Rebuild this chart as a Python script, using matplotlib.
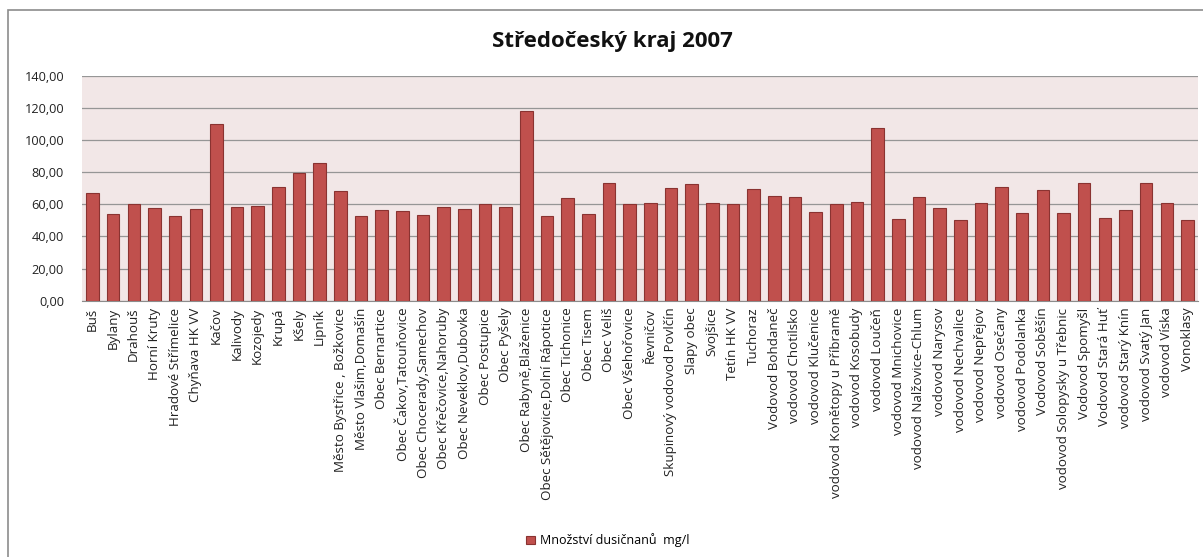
import matplotlib
matplotlib.use("Agg")
import matplotlib.pyplot as plt
from matplotlib.patches import Rectangle
from matplotlib.ticker import FuncFormatter

plt.rcParams['font.family'] = ['Open Sans', 'DejaVu Sans']

# Středočeský kraj 2007 - dusičnany ve vodovodech
obce = [
    "Buš", "Bylany", "Drahouš", "Horní Kruty", "Hradové Střímelice",
    "Chyňava HK VV", "Kačov", "Kalivody", "Kozojedy", "Krupá", "Kšely",
    "Lipník", "Město Bystřice , Božkovice", "Město Vlašim,Domašín",
    "Obec Bernartice", "Obec Čakov,Tatouňovice", "Obec Chocerady,Samechov",
    "Obec Křečovice,Nahoruby", "Obec Neveklov,Dubovka", "Obec Postupice",
    "Obec Pyšely", "Obec Rabyně,Blaženice", "Obec Sětějovice,Dolní Rápotice",
    "Obec Tichonice", "Obec Tisem", "Obec Veliš", "Obec Všehořovice",
    "Řevničov", "Skupinový vodovod Povlčín", "Slapy obec", "Svojšice",
    "Tetín HK VV", "Tuchoraz", "Vodovod Bohdaneč", "vodovod Chotilsko",
    "vodovod Klučenice", "vodovod Konětopy u Příbramě", "vodovod Kosobudy",
    "vodovod Loučeň", "vodovod Mnichovice", "vodovod Nalžovice-Chlum",
    "vodovod Narysov", "vodovod Nechvalice", "vodovod Nepřejov",
    "vodovod Osečany", "vodovod Podolanka", "Vodovod Soběšín",
    "vodovod Solopysky u Třebnic", "Vodovod Spomyšl", "Vodovod Stará Huť",
    "vodovod Starý Knín", "vodovod Svatý Jan", "vodovod Víska", "Vonoklasy",
]
dusicnany = [
    66.8, 53.9, 60.0, 57.5, 52.5, 56.8, 110.2, 58.3, 58.9, 70.5, 79.5,
    85.7, 68.3, 52.5, 56.6, 56.0, 53.1, 58.3, 56.8, 60.2, 58.3, 118.0,
    52.5, 63.9, 53.9, 73.2, 60.2, 61.0, 70.3, 72.4, 61.0, 60.2, 69.7,
    65.4, 64.7, 55.2, 60.0, 61.6, 107.3, 50.8, 64.7, 57.5, 50.2, 61.0,
    70.5, 54.6, 69.1, 54.6, 73.2, 51.7, 56.6, 73.2, 61.0, 50.2,
]
yticks = [0, 20, 40, 60, 80, 100, 120, 140]

fig = plt.figure(figsize=(12.03, 5.57), dpi=100)
ax = fig.add_axes([0.0682, 0.460, 0.9276, 0.404])

# rámeček kolem celého grafu
fig.patches.append(Rectangle((8 / 1203, -0.1), 1.2, 1 - 10 / 557 + 0.1,
                             transform=fig.transFigure, fill=False,
                             edgecolor="#8c8c8c", linewidth=1.2))

ax.set_facecolor("#f2e7e7")
x = range(len(obce))
ax.bar(x, dusicnany, width=0.6, color="#c0504d", edgecolor="#8a3331",
       linewidth=0.8, zorder=3, label="Množství dusičnanů  mg/l")

ax.set_xlim(-0.5, len(obce) - 0.5)
ax.set_ylim(0, 140)
ax.set_yticks(yticks)
ax.yaxis.set_major_formatter(FuncFormatter(lambda v, p: f"{v:.2f}".replace(".", ",")))
ax.yaxis.grid(True, color="#969696", linewidth=0.9, zorder=1)
ax.set_axisbelow(True)

ax.set_xticks(list(x))
ax.set_xticklabels(obce, rotation=90, fontsize=9.6, color="#222222")
ax.tick_params(axis="y", labelsize=9.2, colors="#222222", length=0, pad=13)
ax.tick_params(axis="x", length=0, pad=5)

for side in ["top", "right", "left"]:
    ax.spines[side].set_visible(False)
ax.spines["bottom"].set_color("#8c8c8c")

fig.text(0.509, 0.925, "Středočeský kraj 2007", ha="center", va="center",
         fontsize=16, fontweight="bold", color="#111111")

fig.legend(loc="center", bbox_to_anchor=(0.505, 0.030), frameon=False,
           fontsize=9, handlelength=0.7, handleheight=0.7, handletextpad=0.4)

fig.savefig("out.png", dpi=100, facecolor="white")
